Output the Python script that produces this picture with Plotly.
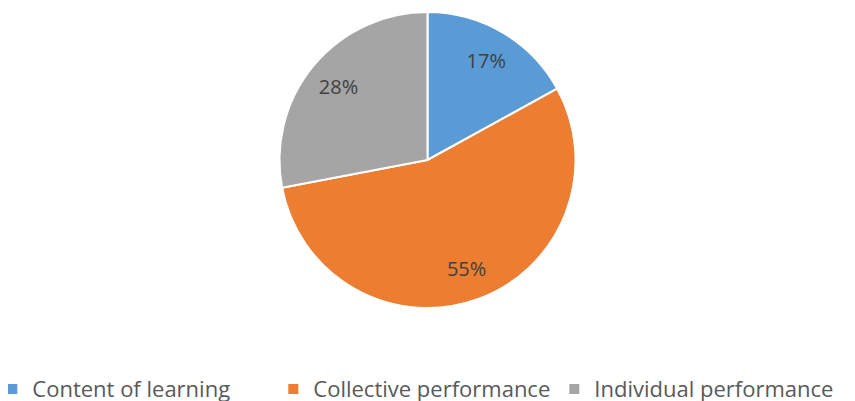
import plotly.graph_objects as go

labels = ["Content of learning", "Collective performance", "Individual performance"]
values = [17, 55, 28]
colors = ["#5B9BD5", "#ED7D31", "#A5A5A5"]

fig = go.Figure()

# full pie with the slices
fig.add_trace(go.Pie(
    labels=labels,
    values=values,
    sort=False,
    direction="clockwise",
    rotation=0,
    textinfo="none",
    marker=dict(colors=colors, line=dict(color="white", width=2)),
    domain=dict(x=[0, 1], y=[0, 1]),
    hoverinfo="label+percent",
))

# transparent ring on top, only used to place the percent labels further out
fig.add_trace(go.Pie(
    labels=labels,
    values=values,
    sort=False,
    direction="clockwise",
    rotation=0,
    hole=0.56,
    textinfo="percent",
    textposition="inside",
    insidetextorientation="horizontal",
    texttemplate="%{percent:.0%}",
    textfont=dict(size=20, color="#404040"),
    marker=dict(colors=["rgba(0,0,0,0)"] * 3, line=dict(width=0)),
    domain=dict(x=[0, 1], y=[0, 1]),
    showlegend=False,
    hoverinfo="skip",
))

fig.update_layout(
    width=855, height=401,
    margin=dict(t=4, b=101, l=0, r=16, autoexpand=False),
    paper_bgcolor="white",
    plot_bgcolor="white",
    font=dict(family="Open Sans, sans-serif", color="#595959"),
    showlegend=True,
    legend=dict(
        orientation="h",
        x=-0.0187, xanchor="left",
        y=-0.274, yanchor="middle",
        font=dict(size=22, color="#595959"),
        itemsizing="constant",
        entrywidth=236, entrywidthmode="pixels",
    ),
)

fig.write_html("out.html")
